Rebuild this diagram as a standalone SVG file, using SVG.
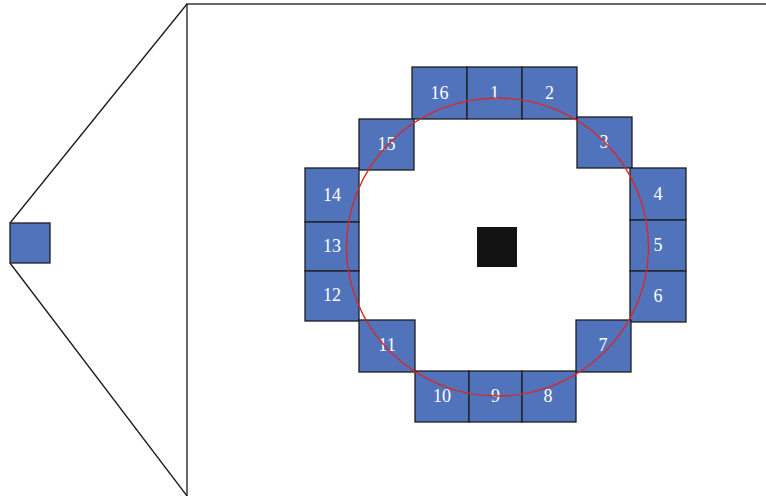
<svg xmlns="http://www.w3.org/2000/svg" width="766" height="496" viewBox="0 0 766 496">
<style>
.cell{fill:#5173BB;stroke:#1e1e1e;stroke-width:1.3}
.lbl{font-family:"Liberation Serif","Times New Roman",serif;font-size:18px;fill:#ffffff;text-anchor:middle}
.ln{fill:none;stroke:#1a1a1a;stroke-width:1.3}
</style>
<rect width="766" height="496" fill="#ffffff"/>
<g id="connectors">
<line class="ln" x1="10" y1="223" x2="187" y2="4"/>
<line class="ln" x1="10" y1="263" x2="187" y2="496"/>
</g>
<g id="zoom-frame"><rect class="ln" x="187" y="4" width="620" height="560"/></g>
<g id="small-sensor"><rect class="cell" x="10" y="223" width="40" height="40"/></g>
<g id="center"><rect x="477" y="227" width="40" height="40" fill="#131313"/></g>
<g id="n16"><rect class="cell" x="412" y="67" width="55" height="52"/><text class="lbl" x="439.5" y="99">16</text></g>
<g id="n1"><rect class="cell" x="467" y="67" width="55" height="52"/><text class="lbl" x="494.5" y="99">1</text></g>
<g id="n2"><rect class="cell" x="522" y="67" width="55" height="52"/><text class="lbl" x="549.5" y="99">2</text></g>
<g id="n3"><rect class="cell" x="577" y="117" width="55" height="51"/><text class="lbl" x="604" y="148">3</text></g>
<g id="n15"><rect class="cell" x="359" y="119" width="55" height="51"/><text class="lbl" x="386.5" y="150">15</text></g>
<g id="n4"><rect class="cell" x="630" y="168" width="56" height="52"/><text class="lbl" x="658" y="200">4</text></g>
<g id="n5"><rect class="cell" x="630" y="220" width="56" height="51"/><text class="lbl" x="658" y="251">5</text></g>
<g id="n6"><rect class="cell" x="630" y="271" width="56" height="51"/><text class="lbl" x="658" y="302">6</text></g>
<g id="n14"><rect class="cell" x="305" y="168" width="54" height="54"/><text class="lbl" x="332" y="201">14</text></g>
<g id="n13"><rect class="cell" x="305" y="222" width="54" height="49"/><text class="lbl" x="332" y="252">13</text></g>
<g id="n12"><rect class="cell" x="305" y="271" width="54" height="50"/><text class="lbl" x="332" y="301">12</text></g>
<g id="n11"><rect class="cell" x="359" y="320" width="56" height="52"/><text class="lbl" x="387" y="351">11</text></g>
<g id="n7"><rect class="cell" x="576" y="320" width="55" height="52"/><text class="lbl" x="603" y="351">7</text></g>
<g id="n10"><rect class="cell" x="415" y="371" width="54" height="51"/><text class="lbl" x="442" y="402">10</text></g>
<g id="n9"><rect class="cell" x="469" y="371" width="53" height="51"/><text class="lbl" x="495.5" y="402">9</text></g>
<g id="n8"><rect class="cell" x="522" y="371" width="54" height="51"/><text class="lbl" x="548" y="402">8</text></g>
<g id="ring"><ellipse cx="497.5" cy="247" rx="151" ry="149" fill="none" stroke="#d42a2a" stroke-width="1.4"/></g>
</svg>
